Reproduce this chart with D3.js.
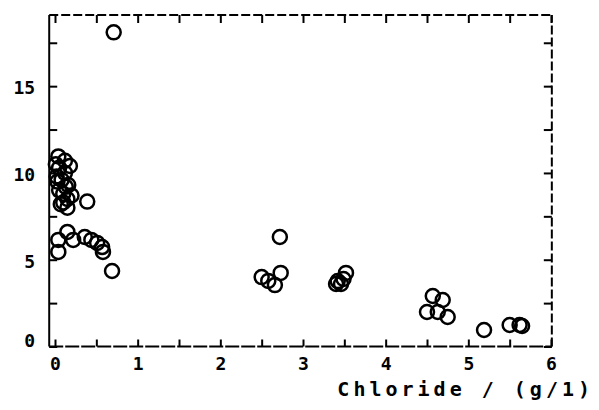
<!DOCTYPE html>
<html>
<head>
<meta charset="utf-8">
<script src="https://cdn.jsdelivr.net/npm/d3@7"></script>
<style>
  html, body { margin: 0; padding: 0; background: #fff; }
  svg { display: block; }
  text { font-family: "DejaVu Sans Mono", monospace; font-weight: bold; fill: #000; }
</style>
</head>
<body>
<svg id="chart" width="599" height="410"></svg>
<script>
// Chloride concentration (g/l) against measured value
const chloride = [
  0.04, 0.12, 0.18, 0.05, 0.02, 0.12, 0.03, 0.16, 0.05, 0.10, 0.15, 0.10, 0.15, 0.39, 0.20,
  0.08, 0.13, 0.07, 0.01,
  0.04, 0.04, 0.15, 0.22, 0.36, 0.44, 0.51, 0.57, 0.58, 0.69,
  0.71,
  2.50, 2.58, 2.66, 2.73, 2.72,
  3.40, 3.42, 3.46, 3.49, 3.52,
  4.57, 4.69, 4.50, 4.63, 4.75, 5.19, 5.50, 5.62, 5.65
];
const measured = [
  10.95, 10.7, 10.4, 10.3, 9.8, 10.0, 9.5, 9.3, 9.0, 8.8, 8.5, 8.3, 8.0, 8.35, 8.7,
  9.6, 9.2, 8.2, 10.5,
  6.14, 5.45, 6.60, 6.14, 6.31, 6.14, 5.97, 5.73, 5.45, 4.35,
  18.1,
  4.0, 3.78, 3.54, 4.24, 6.31,
  3.6, 3.77, 3.60, 3.89, 4.24,
  2.91, 2.68, 1.99, 1.99, 1.70, 0.95, 1.24, 1.24, 1.18
];
const xTicks = [0, 0.5, 1, 1.5, 2, 2.5, 3, 3.5, 4, 4.5, 5, 5.5, 6];
const yTicks = [0, 2.5, 5, 7.5, 10, 12.5, 15, 17.5];
const xTitle = "Chloride / (g/1)";

const svg = d3.select("#chart");
const x = d3.scaleLinear().domain([0, 6]).range([55, 551]);
const y = d3.scaleLinear().domain([0, 19.1]).range([346.5, 15]);
const xMin = -0.07, xMax = 6.01, yMin = 0, yMax = 19.1;

// frame: solid left edge, ragged plotter dashes elsewhere
const frame = svg.append("g").attr("stroke", "#000").attr("stroke-width", 2).attr("fill", "none");
frame.append("line").attr("x1", x(xMin)).attr("x2", x(xMin)).attr("y1", y(yMin)).attr("y2", y(yMax));
frame.append("line").attr("x1", x(xMin)).attr("x2", x(xMax)).attr("y1", y(yMin)).attr("y2", y(yMin))
  .attr("stroke-dasharray", "14,2");
frame.append("line").attr("x1", x(xMin)).attr("x2", x(xMax)).attr("y1", y(yMax)).attr("y2", y(yMax))
  .attr("stroke-dasharray", "9,3");
frame.append("line").attr("x1", x(xMax)).attr("x2", x(xMax)).attr("y1", y(yMin)).attr("y2", y(yMax))
  .attr("stroke-dasharray", "9,3");

function styleAxis(g) {
  g.select(".domain").remove();
  g.selectAll(".tick line").attr("stroke", "#000").attr("stroke-width", 2);
  g.selectAll(".tick text").attr("font-size", 18).attr("fill", "#000")
    .attr("font-family", "DejaVu Sans Mono, monospace").attr("font-weight", "bold");
}

// bottom axis with inward ticks
svg.append("g").attr("transform", `translate(0,${y(0)})`)
  .call(d3.axisBottom(x).tickValues(xTicks).tickSizeInner(-7).tickSizeOuter(0).tickPadding(11)
    .tickFormat(d => Number.isInteger(d) ? String(d) : ""))
  .call(styleAxis);

// top axis, ticks only
svg.append("g").attr("transform", `translate(0,${y(yMax)})`)
  .call(d3.axisTop(x).tickValues(xTicks).tickSizeInner(-8).tickSizeOuter(0).tickFormat(""))
  .call(styleAxis);

// left axis with inward ticks
svg.append("g").attr("transform", `translate(${x(xMin)},0)`)
  .call(d3.axisLeft(y).tickValues(yTicks).tickSizeInner(-8).tickSizeOuter(0).tickPadding(14)
    .tickFormat(d => d % 5 === 0 ? String(d) : ""))
  .call(styleAxis)
  .call(g => g.selectAll(".tick text").attr("dy", d => d === 0 ? "0.0em" : "0.42em"));

// right axis, ticks only
svg.append("g").attr("transform", `translate(${x(xMax)},0)`)
  .call(d3.axisRight(y).tickValues(yTicks).tickSizeInner(-8).tickSizeOuter(0).tickFormat(""))
  .call(styleAxis);

// axis title
svg.append("text")
  .attr("x", 594).attr("y", 396)
  .attr("text-anchor", "end")
  .attr("font-size", 20)
  .attr("letter-spacing", 4)
  .text(xTitle);

// open circle markers
svg.append("g")
  .selectAll("circle")
  .data(d3.range(chloride.length))
  .join("circle")
  .attr("cx", i => x(chloride[i]))
  .attr("cy", i => y(measured[i]))
  .attr("r", 7)
  .attr("fill", "none")
  .attr("stroke", "#000")
  .attr("stroke-width", 2.5);
</script>
</body>
</html>
